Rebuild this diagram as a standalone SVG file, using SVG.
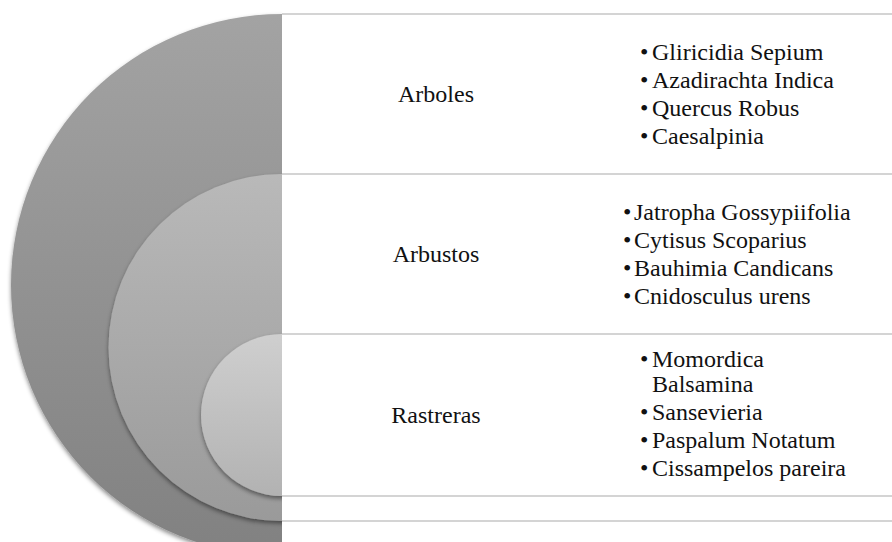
<svg xmlns="http://www.w3.org/2000/svg" width="892" height="542" viewBox="0 0 892 542">
  <defs>
    <linearGradient id="gBig" x1="0" y1="0" x2="0" y2="1">
      <stop offset="0" stop-color="#a3a3a3"/>
      <stop offset="1" stop-color="#818181"/>
    </linearGradient>
    <linearGradient id="gMid" x1="0" y1="0" x2="0" y2="1">
      <stop offset="0" stop-color="#b9b9b9"/>
      <stop offset="1" stop-color="#9a9a9a"/>
    </linearGradient>
    <linearGradient id="gSmall" x1="0" y1="0" x2="0" y2="1">
      <stop offset="0" stop-color="#cfcfcf"/>
      <stop offset="1" stop-color="#b2b2b2"/>
    </linearGradient>
    <filter id="shadow" x="-10%" y="-10%" width="120%" height="125%">
      <feDropShadow dx="0" dy="2.5" stdDeviation="2.2" flood-color="#000" flood-opacity="0.45"/>
    </filter>
    <clipPath id="halfClip">
      <rect x="0" y="0" width="282" height="542"/>
    </clipPath>
  </defs>
  <style>
    text { font-family: 'Liberation Serif', 'DejaVu Serif', serif; font-size: 24px; fill: #111; }
    .label { text-anchor: middle; }
    .sep { stroke: #c6c6c6; stroke-width: 1.5; fill: none; }
  </style>
  <rect width="892" height="542" fill="#ffffff"/>

  <g id="connectors">
    <line class="sep" x1="282" y1="14" x2="892" y2="14"/>
    <line class="sep" x1="282" y1="174" x2="892" y2="174"/>
    <line class="sep" x1="282" y1="334" x2="892" y2="334"/>
    <line class="sep" x1="282" y1="496" x2="892" y2="496"/>
    <line class="sep" x1="282" y1="521" x2="892" y2="521"/>
  </g>

  <g clip-path="url(#halfClip)">
    <g id="arboles-shape"><circle cx="282" cy="285" r="271" fill="url(#gBig)" filter="url(#shadow)"/></g>
    <g id="arbustos-shape"><circle cx="282" cy="347.5" r="173.5" fill="url(#gMid)" filter="url(#shadow)"/></g>
    <g id="rastreras-shape"><circle cx="282" cy="415" r="81" fill="url(#gSmall)" filter="url(#shadow)"/></g>
  </g>

  <g id="arboles">
    <text class="label" x="436" y="102" font-family="Liberation Serif">Arboles</text>
    <text x="640" y="59.5" font-family="Liberation Serif">•</text><text x="652" y="59.5" font-family="Liberation Serif">Gliricidia Sepium</text>
    <text x="640" y="87.7" font-family="Liberation Serif">•</text><text x="652" y="87.7" font-family="Liberation Serif">Azadirachta Indica</text>
    <text x="640" y="115.9" font-family="Liberation Serif">•</text><text x="652" y="115.9" font-family="Liberation Serif">Quercus Robus</text>
    <text x="640" y="144.1" font-family="Liberation Serif">•</text><text x="652" y="144.1" font-family="Liberation Serif">Caesalpinia</text>
  </g>

  <g id="arbustos">
    <text class="label" x="436" y="262" font-family="Liberation Serif">Arbustos</text>
    <text x="623" y="219.5" font-family="Liberation Serif">•</text><text x="634" y="219.5" font-family="Liberation Serif">Jatropha Gossypiifolia</text>
    <text x="623" y="247.7" font-family="Liberation Serif">•</text><text x="634" y="247.7" font-family="Liberation Serif">Cytisus Scoparius</text>
    <text x="623" y="275.9" font-family="Liberation Serif">•</text><text x="634" y="275.9" font-family="Liberation Serif">Bauhimia Candicans</text>
    <text x="623" y="304.1" font-family="Liberation Serif">•</text><text x="634" y="304.1" font-family="Liberation Serif">Cnidosculus urens</text>
  </g>

  <g id="rastreras">
    <text class="label" x="436" y="423" font-family="Liberation Serif">Rastreras</text>
    <text x="640" y="366.7" font-family="Liberation Serif">•</text><text x="652" y="366.7" font-family="Liberation Serif">Momordica</text>
    <text x="652" y="391.7" font-family="Liberation Serif">Balsamina</text>
    <text x="640" y="419.5" font-family="Liberation Serif">•</text><text x="652" y="419.5" font-family="Liberation Serif">Sansevieria</text>
    <text x="640" y="447.7" font-family="Liberation Serif">•</text><text x="652" y="447.7" font-family="Liberation Serif">Paspalum Notatum</text>
    <text x="640" y="475.9" font-family="Liberation Serif">•</text><text x="652" y="475.9" font-family="Liberation Serif">Cissampelos pareira</text>
  </g>
</svg>
